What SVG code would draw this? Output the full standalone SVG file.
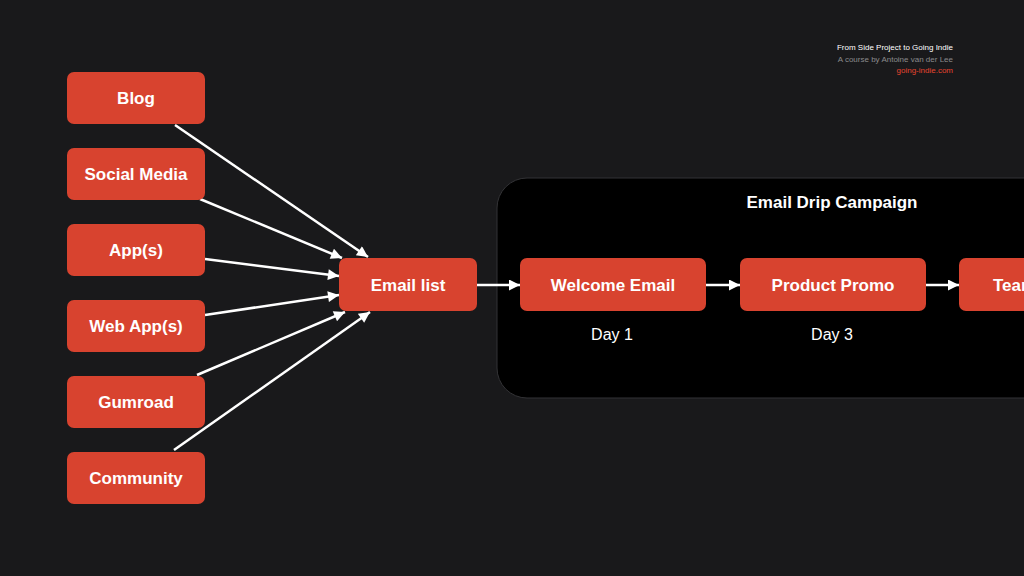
<svg xmlns="http://www.w3.org/2000/svg" width="1024" height="576" viewBox="0 0 1024 576">
<defs>
<style>
.box{fill:#d8432f}
.lbl{font-family:"Liberation Sans",Arial,sans-serif;font-weight:bold;font-size:17px;fill:#ffffff;text-anchor:middle}
.day{font-family:"Liberation Sans",Arial,sans-serif;font-size:16px;fill:#ffffff;text-anchor:middle}
.edge{stroke:#ffffff;stroke-width:2.5;fill:none;marker-end:url(#ah)}
.hdr{font-family:"Liberation Sans",Arial,sans-serif;font-size:8px;text-anchor:end}
</style>
<marker id="ah" viewBox="0 0 10 10" refX="10" refY="5" markerWidth="5" markerHeight="4.4" markerUnits="strokeWidth" orient="auto">
<path d="M0,0 L10,5 L0,10 z" fill="#ffffff"/>
</marker>
</defs>
<rect width="1024" height="576" fill="#19191b"/>
<g id="header">
<text class="hdr" x="953" y="50" fill="#ffffff">From Side Project to Going Indie</text>
<text class="hdr" x="953" y="62" fill="#8a8a8c">A course by Antoine van der Lee</text>
<text class="hdr" x="953" y="73" fill="#e5452f">going-indie.com</text>
</g>
<g id="campaign">
<rect x="497" y="178" width="560" height="220" rx="30" fill="#000000" stroke="#333336" stroke-width="1"/>
<text class="lbl" x="832" y="208">Email Drip Campaign</text>
<text class="day" x="612" y="340">Day 1</text>
<text class="day" x="832" y="340">Day 3</text>
</g>
<g id="connectors">
<line class="edge" x1="175" y1="125" x2="368" y2="257"/>
<line class="edge" x1="200" y1="199" x2="342" y2="258"/>
<line class="edge" x1="205" y1="259" x2="339" y2="276"/>
<line class="edge" x1="205" y1="315" x2="339" y2="295"/>
<line class="edge" x1="197" y1="375" x2="345" y2="312"/>
<line class="edge" x1="174" y1="450" x2="370" y2="312"/>
<line class="edge" x1="477" y1="285" x2="520" y2="285"/>
<line class="edge" x1="706" y1="285" x2="740" y2="285"/>
<line class="edge" x1="926" y1="285" x2="959" y2="285"/>
</g>
<g id="blog"><rect class="box" x="67" y="72" width="138" height="52" rx="7"/><text class="lbl" x="136" y="104">Blog</text></g>
<g id="social-media"><rect class="box" x="67" y="148" width="138" height="52" rx="7"/><text class="lbl" x="136" y="180">Social Media</text></g>
<g id="apps"><rect class="box" x="67" y="224" width="138" height="52" rx="7"/><text class="lbl" x="136" y="256">App(s)</text></g>
<g id="web-apps"><rect class="box" x="67" y="300" width="138" height="52" rx="7"/><text class="lbl" x="136" y="332">Web App(s)</text></g>
<g id="gumroad"><rect class="box" x="67" y="376" width="138" height="52" rx="7"/><text class="lbl" x="136" y="408">Gumroad</text></g>
<g id="community"><rect class="box" x="67" y="452" width="138" height="52" rx="7"/><text class="lbl" x="136" y="484">Community</text></g>
<g id="email-list"><rect class="box" x="339" y="258" width="138" height="53" rx="7"/><text class="lbl" x="408" y="291">Email list</text></g>
<g id="welcome-email"><rect class="box" x="520" y="258" width="186" height="53" rx="7"/><text class="lbl" x="613" y="291">Welcome Email</text></g>
<g id="product-promo"><rect class="box" x="740" y="258" width="186" height="53" rx="7"/><text class="lbl" x="833" y="291">Product Promo</text></g>
<g id="third-email"><rect class="box" x="959" y="258" width="186" height="53" rx="7"/><text class="lbl" x="993" y="291" style="text-anchor:start">Team</text></g>
</svg>
